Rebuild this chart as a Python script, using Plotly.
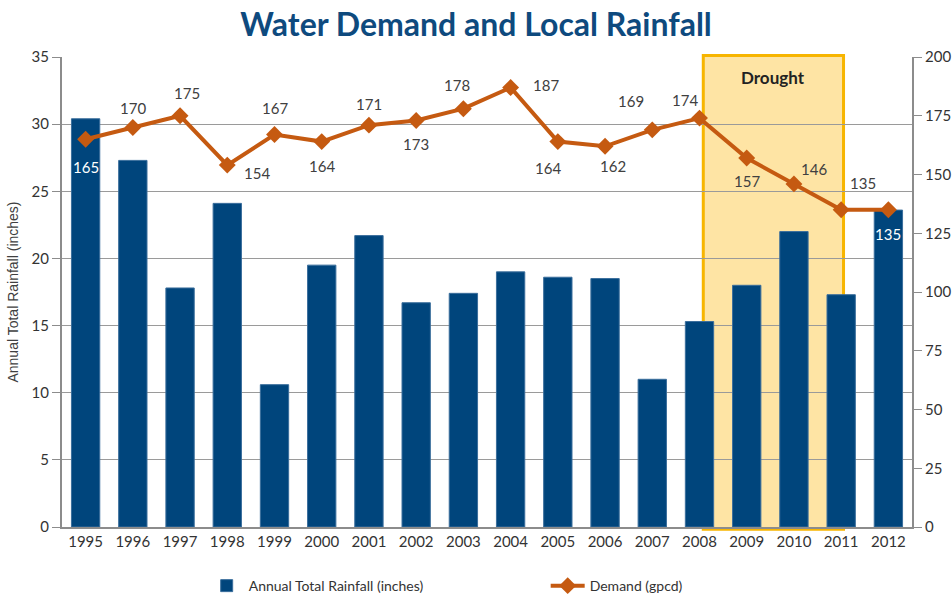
import plotly.graph_objects as go

years = [str(y) for y in range(1995, 2013)]
rainfall = [30.4, 27.3, 17.8, 24.1, 10.6, 19.5, 21.7, 16.7, 17.4, 19.0,
            18.6, 18.5, 11.0, 15.3, 18.0, 22.0, 17.3, 23.6]
demand = [165, 170, 175, 154, 167, 164, 171, 173, 178, 187,
          164, 162, 169, 174, 157, 146, 135, 135]
drought_years = ("2008", "2011")

# label offsets from each demand point, in pixels (right, down)
label_dx = [0, 0, 7, 30, 0, 0, 0, 0, -6, 35, -10, 8, -21, -15, 0, 20, 22, 0]
label_dy = [28, -20, -23, 8, -27, 24, -21, 24, -24, -3, 26, 20, -29, -18, 23, -15, -27, 24]
label_color = ["white"] + ["#404040"] * 16 + ["white"]

BLUE = "#00457C"
ORANGE = "#C55A11"
GRID = "#9a9a9a"

fig = go.Figure()

fig.add_trace(go.Bar(
    x=years, y=rainfall, name="Annual Total Rainfall (inches)",
    marker=dict(color=BLUE, line=dict(color="#3a6e9c", width=1)),
    width=0.6, yaxis="y",
))

fig.add_trace(go.Scatter(
    x=years, y=demand, name="Demand (gpcd)", yaxis="y2",
    mode="lines+markers",
    line=dict(color=ORANGE, width=4),
    marker=dict(symbol="diamond", size=13, color=ORANGE),
))

# value labels (x as category index: year strings would be read as numbers)
for i, (v, dx, dy, c) in enumerate(zip(demand, label_dx, label_dy, label_color)):
    fig.add_annotation(x=i, y=v, xref="x", yref="y2", text=str(v), showarrow=False,
                       xshift=dx, yshift=-dy,
                       font=dict(size=15, color=c, family="Lato"))

# drought period box
i0 = years.index(drought_years[0])
i1 = years.index(drought_years[1])
fig.add_shape(type="rect", xref="x", yref="paper",
              x0=i0 + 0.08, x1=i1 + 0.05, y0=-0.005, y1=1.003,
              fillcolor="rgba(254,206,90,0.55)",
              line=dict(color="#F7B500", width=3), layer="between")
fig.add_annotation(x=(i0 + i1) / 2 + 0.06, y=0.983, xref="x", yref="paper",
                   text="<b>Drought</b>", showarrow=False, yanchor="top",
                   font=dict(size=17, color="#222222", family="Lato"))

axis_common = dict(
    showline=True, linecolor="#8c8c8c", linewidth=2, automargin=False,
    ticks="outside", ticklen=8, tickcolor="#8c8c8c",
    tickfont=dict(size=15, color="#333333", family="Lato"),
)

fig.update_layout(
    title=dict(text="<b>Water Demand and Local Rainfall</b>", x=0.5, y=0.958,
               xanchor="center", yanchor="middle",
               font=dict(size=32, color="#0E4A7E", family="Lato")),
    width=952, height=598,
    margin=dict(l=62, r=40, t=57, b=71),
    paper_bgcolor="white", plot_bgcolor="white",
    bargap=0.4, showlegend=True,
    xaxis=dict(type="category", range=[-0.5, len(years) - 0.5],
               showline=True, linecolor="#8c8c8c", linewidth=2,
               automargin=False, ticks="",
               tickfont=dict(size=15, color="#333333", family="Lato")),
    yaxis=dict(range=[0, 35], dtick=5, showgrid=True, gridcolor=GRID, gridwidth=1,
               zeroline=False,
               title=dict(text="Annual Total Rainfall (inches)", standoff=10,
                          font=dict(size=14, color="#404040", family="Liberation Sans")),
               **axis_common),
    yaxis2=dict(range=[0, 200], dtick=25, overlaying="y", side="right",
                showgrid=False, zeroline=False, **axis_common),
    legend=dict(orientation="h", xref="container", yref="container",
                x=0.215, y=0.02, xanchor="left", yanchor="middle",
                entrywidth=292, itemwidth=34,
                font=dict(size=14, color="#333333", family="Lato")),
)

# page margin off so the 952x598 figure fills the window exactly
fig.write_html("out.html", config={"displayModeBar": False},
               post_script="document.body.style.margin='0';document.body.style.overflow='hidden';")
